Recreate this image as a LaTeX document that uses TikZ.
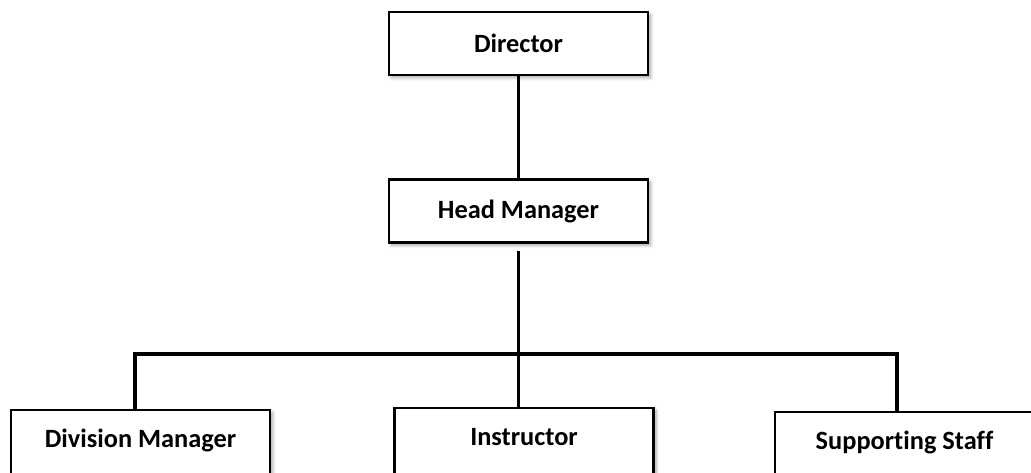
\documentclass[tikz,border=0pt]{standalone}
\usepackage{fontspec}
\setmainfont{Carlito}[Ligatures=NoCommon]
\usetikzlibrary{shadows.blur}

\begin{document}
\begin{tikzpicture}[
  box/.style = {draw, line width=1.4pt, fill=white, minimum width=5.18cm, minimum height=1.26cm,
                font=\bfseries\fontsize{15}{18}\selectfont,
                blur shadow={shadow xshift=1.5pt, shadow yshift=-1.5pt, shadow blur steps=6, shadow opacity=35}},
  lowbox/.style = {box, minimum height=0pt, anchor=north, inner sep=0.1cm,
                   text height=0.64cm, text depth=1.2cm},
  link/.style = {line width=2pt}]
  \useasboundingbox (0,0) rectangle (20.62,9.44);
  \clip (0,0) rectangle (20.62,9.44);

  %%% top of the chart %%%
  \node[box] (dir) at (10.37,8.57) {Director};
  \node[box] (head) at (10.37,5.22) {Head Manager};

  %%% bottom row %%%
  \node[lowbox] (divm) at (2.81,1.26) {Division Manager};
  \node[lowbox] (instr) at (10.48,1.30) {Instructor};
  \node[lowbox] (staff) at (18.09,1.22) {Supporting Staff};

  % bus line
  \coordinate (busL) at (2.70,2.36);
  \coordinate (busR) at (17.94,2.36);

  %%% connectors %%%
  \draw[link] (dir.south) -- (head.north);
  \draw[link, shorten <=0.14cm] (head.south) -- (head.south |- busL);
  \draw[link] (divm.north -| busL) -- (busL) -- (busR) -- (busR |- staff.north);
  \draw[link] (head.south |- busL) -- (head.south |- instr.north);
\end{tikzpicture}
\end{document}
